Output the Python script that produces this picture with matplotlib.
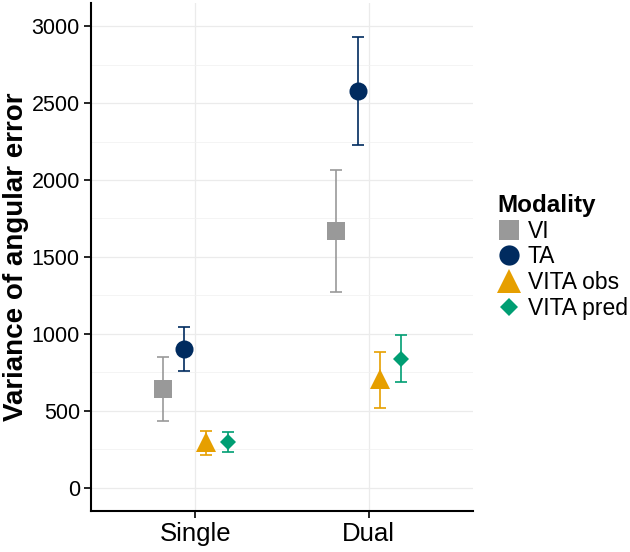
import numpy as np
import matplotlib
matplotlib.use("Agg")
import matplotlib.pyplot as plt
from matplotlib.ticker import MultipleLocator

plt.rcParams['font.family'] = ['Liberation Sans', 'DejaVu Sans']

# data
groups = ['Single', 'Dual']
modalities = ['VI', 'TA', 'VITA obs', 'VITA pred']

vi_mean = [645, 1670]
ta_mean = [902, 2578]
obs_mean = [300, 705]
pred_mean = [300, 840]

vi_low = [432, 1272]
ta_low = [758, 2225]
obs_low = [214, 520]
pred_low = [233, 691]

vi_high = [852, 2068]
ta_high = [1047, 2932]
obs_high = [372, 884]
pred_high = [366, 992]

means = [vi_mean, ta_mean, obs_mean, pred_mean]
lows = [vi_low, ta_low, obs_low, pred_low]
highs = [vi_high, ta_high, obs_high, pred_high]

colors = ['#999999', '#002b5f', '#E69F00', '#009E73']
markers = ['s', 'o', '^', 'D']
msizes = [13, 13, 15, 8.5]

fig = plt.figure(figsize=(6.3, 5.52), dpi=100)
ax = fig.add_axes([0.1444, 0.0743, 0.6064, 0.9203])

x = np.arange(1, len(groups) + 1)
dodge = 0.5
n = len(modalities)

for i, name in enumerate(modalities):
    offs = (i - (n - 1) / 2.0) * dodge / n
    m = np.array(means[i])
    lo = m - np.array(lows[i])
    hi = np.array(highs[i]) - m
    ax.errorbar(x + offs, m, yerr=[lo, hi], fmt='none', ecolor=colors[i],
                elinewidth=1.2, capsize=4.5, capthick=1.2, zorder=2)
    ax.plot(x + offs, m, linestyle='none', marker=markers[i], markersize=msizes[i],
            color=colors[i], markeredgewidth=0, label=name, zorder=3)

# axes setup
ax.set_xlim(0.4, 2.6)
ax.set_ylim(-150, 3150)
ax.set_xticks(x)
ax.set_xticklabels(groups)
ax.yaxis.set_major_locator(MultipleLocator(500))
ax.yaxis.set_minor_locator(MultipleLocator(250))
ax.tick_params(axis='y', which='minor', length=0)
ax.tick_params(axis='both', which='major', direction='out', length=5, width=1.2, color='black')
ax.tick_params(axis='y', labelsize=15.5, pad=3)
ax.tick_params(axis='x', labelsize=18.5, pad=3)

ax.grid(which='major', color='#ebebeb', linewidth=0.9, zorder=0)
ax.grid(which='minor', axis='y', color='#f2f2f2', linewidth=0.6, zorder=0)
ax.set_axisbelow(True)

for s in ['top', 'right']:
    ax.spines[s].set_visible(False)
for s in ['left', 'bottom']:
    ax.spines[s].set_linewidth(1.5)
    ax.spines[s].set_color('black')

ax.set_ylabel('Variance of angular error', fontsize=20, fontweight='bold', labelpad=2)

leg = ax.legend(title='Modality', loc='center left', bbox_to_anchor=(1.065, 0.5),
                frameon=False, fontsize=16.5, title_fontsize=17.5, handlelength=1.0,
                handletextpad=0.3, labelspacing=0.12, borderpad=0, borderaxespad=0,
                markerscale=1.12)
leg.get_title().set_fontweight('bold')
leg._legend_box.align = 'left'

fig.savefig('out.png', dpi=100)
